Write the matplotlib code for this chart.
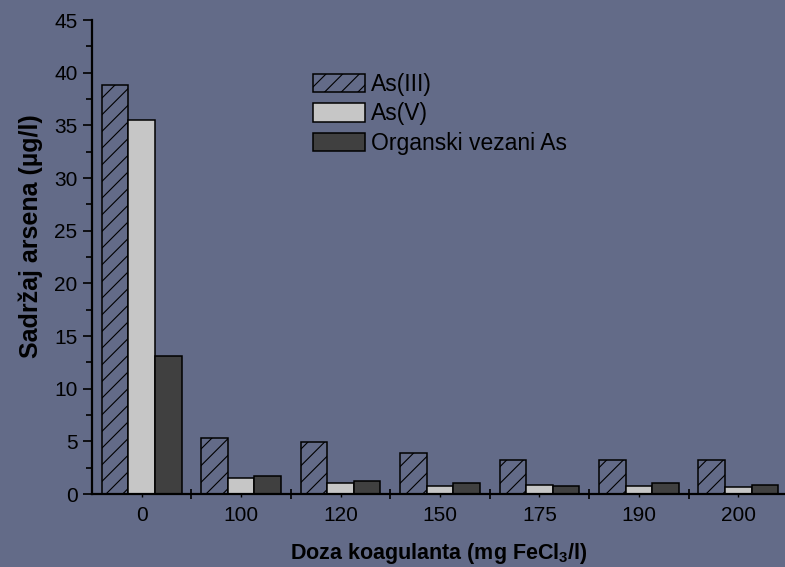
import numpy as np
import matplotlib
matplotlib.use('Agg')
import matplotlib.pyplot as plt
from matplotlib.ticker import MultipleLocator, FixedLocator

# arsenic content after coagulation, ug/l
doses = ['0', '100', '120', '150', '175', '190', '200']
as3 = [38.8, 5.3, 4.9, 3.85, 3.25, 3.2, 3.2]
as5 = [35.5, 1.5, 1.0, 0.8, 0.9, 0.8, 0.65]
org = [13.1, 1.7, 1.2, 1.05, 0.8, 1.0, 0.9]
labels = ['As(III)', 'As(V)', 'Organski vezani As']

BG = '#636b88'

plt.rcParams['font.family'] = ['Liberation Sans', 'DejaVu Sans']
plt.rcParams['mathtext.fontset'] = 'custom'
plt.rcParams['mathtext.rm'] = 'Liberation Sans:bold'
plt.rcParams['mathtext.bf'] = 'Liberation Sans:bold'
plt.rcParams['hatch.linewidth'] = 0.8
plt.rcParams['hatch.color'] = 'black'

fig = plt.figure(figsize=(7.85, 5.67), dpi=100, facecolor=BG)
ax = fig.add_axes([92 / 785, 73 / 567, 1 - 92 / 785, (494 - 20) / 567])
ax.set_facecolor(BG)

x = np.arange(len(doses))
w = 0.267
ax.bar(x - w, as3, w, facecolor=BG, edgecolor='black', hatch='//', linewidth=1.1, label=labels[0])
ax.bar(x, as5, w, facecolor='#c6c6c6', edgecolor='black', linewidth=1.1, label=labels[1])
ax.bar(x + w, org, w, facecolor='#404040', edgecolor='black', linewidth=1.1, label=labels[2])

ax.set_xlim(-0.5, 6.47)
ax.set_ylim(0, 45)

for s in ['top', 'right']:
    ax.spines[s].set_visible(False)
for s in ['left', 'bottom']:
    ax.spines[s].set_linewidth(1.6)

ax.yaxis.set_major_locator(MultipleLocator(5))
ax.yaxis.set_minor_locator(MultipleLocator(2.5))
ax.tick_params(axis='y', which='major', direction='out', length=6.5, width=1.2,
               labelsize=15, pad=4)
ax.tick_params(axis='y', which='minor', direction='out', length=4, width=1.2)

# group separators as major ticks, dose labels on minor ticks at group centres
ax.xaxis.set_major_locator(FixedLocator(x[:-1] + 0.5))
ax.xaxis.set_major_formatter(plt.NullFormatter())
ax.set_xticks(x, minor=True)
ax.set_xticklabels(doses, minor=True)
ax.tick_params(axis='x', which='major', direction='inout', length=7, width=1.2)
ax.tick_params(axis='x', which='minor', direction='out', length=2.5, width=1.0,
               labelsize=15, pad=6)

ax.set_xlabel(r'Doza koagulanta (mg FeCl$_3$/l)', fontsize=15.5, fontweight='bold', labelpad=12)
ax.set_ylabel('Sadržaj arsena (µg/l)', fontsize=18, fontweight='bold')
ax.yaxis.set_label_coords(-0.071, 0.543)

leg = fig.legend(loc='upper left', bbox_to_anchor=(313 / 785, 1 - 73 / 567), frameon=False,
                 fontsize=16.5, handlelength=2.25, handleheight=0.85, handletextpad=0.3,
                 labelspacing=0.28, borderpad=0, borderaxespad=0)

fig.savefig('out.png', dpi=100, facecolor=BG)
